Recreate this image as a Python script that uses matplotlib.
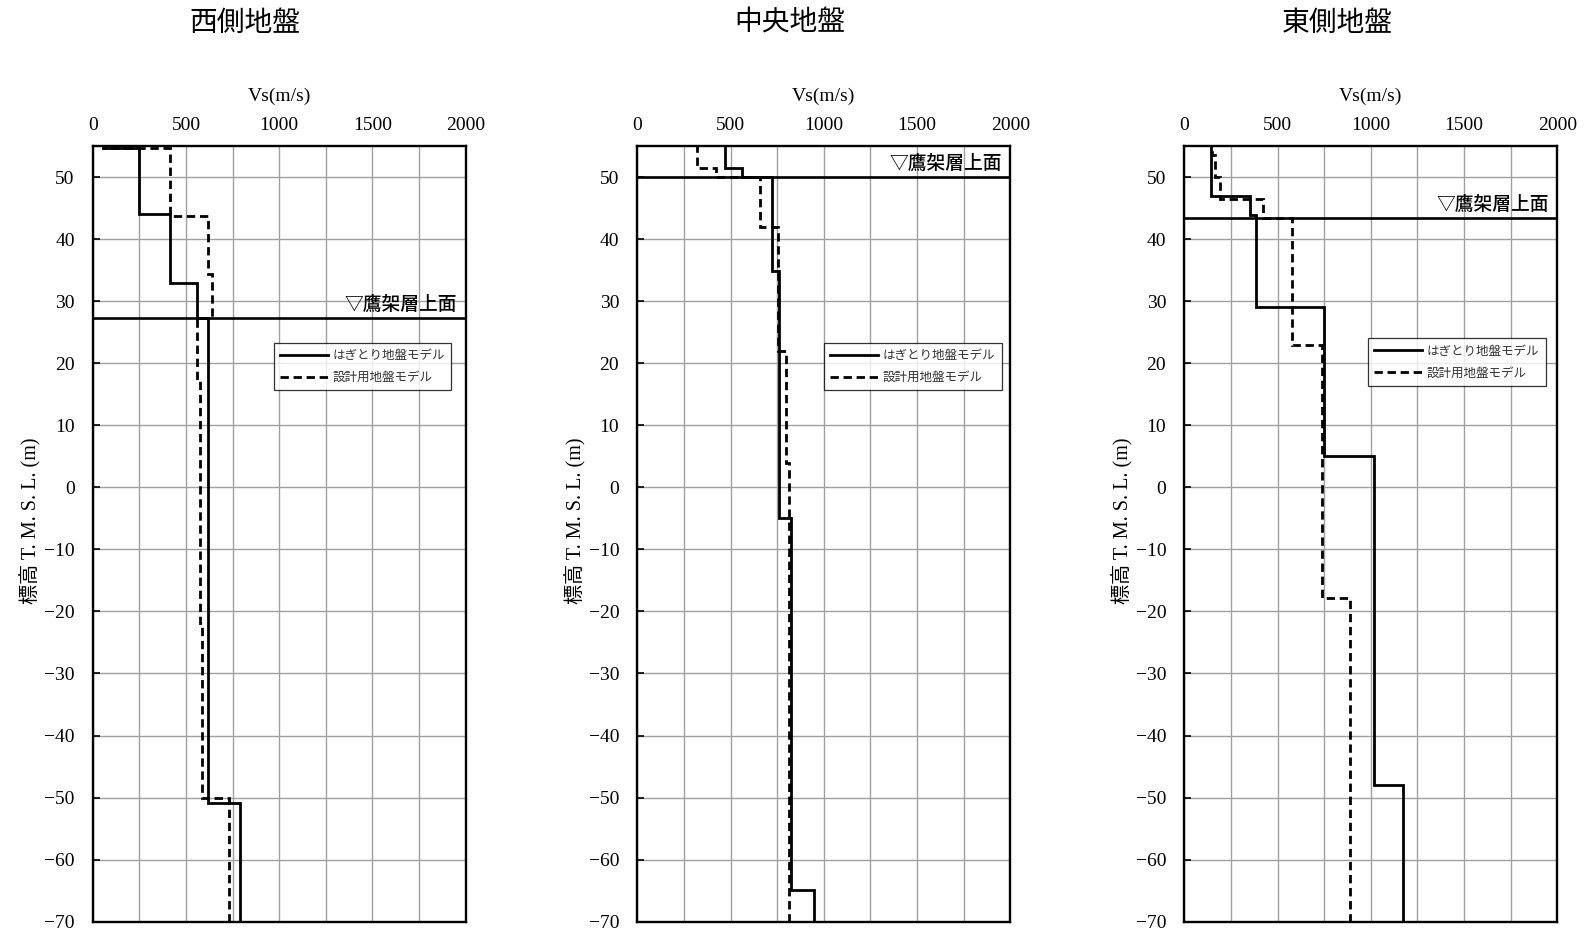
"""Vs profiles for the three ground models (west / centre / east)."""
import matplotlib
matplotlib.use("Agg")
import matplotlib.pyplot as plt
from matplotlib.ticker import MultipleLocator

JP = ["Noto Sans CJK JP", "DejaVu Sans"]
SERIF = ["Liberation Serif", "Noto Sans CJK JP"]

TITLES = ["西側地盤", "中央地盤", "東側地盤"]
LEGEND_LABELS = ["はぎとり地盤モデル", "設計用地盤モデル"]
MARK_TEXT = "▽鷹架層上面"

# layer boundaries (top -> bottom, T.M.S.L. m) and Vs (m/s) per layer
west_hag_edges = [55, 54.6, 44.0, 33.0, 27.3, -50.9, -70]
west_hag_vs = [57, 246, 417, 557, 620, 790]
west_des_edges = [55, 54.7, 43.8, 34.3, 27.3, 17.1, -21.9, -50.0, -70]
west_des_vs = [60, 417, 620, 637, 561, 575, 588, 732]

mid_hag_edges = [55, 51.5, 50.0, 34.9, -4.9, -64.9, -70]
mid_hag_vs = [470, 559, 720, 760, 825, 949]
mid_des_edges = [55, 51.5, 50.0, 42.0, 22.0, 3.9, -70]
mid_des_vs = [318, 422, 657, 755, 796, 815]

east_hag_edges = [55, 47.0, 43.9, 29.0, 5.0, -47.9, -70]
east_hag_vs = [145, 354, 382, 750, 1018, 1170]
east_des_edges = [55, 53.5, 50.0, 46.4, 43.4, 23.0, -17.9, -70]
east_des_vs = [150, 166, 190, 423, 580, 741, 888]

# 鷹架層上面 elevation per panel
mark_elev = [27.3, 50.0, 43.4]

panels = [
    (west_hag_edges, west_hag_vs, west_des_edges, west_des_vs),
    (mid_hag_edges, mid_hag_vs, mid_des_edges, mid_des_vs),
    (east_hag_edges, east_hag_vs, east_des_edges, east_des_vs),
]

W, H = 1588, 933
fig = plt.figure(figsize=(W / 100, H / 100), dpi=100)

ax_left = [92.7, 637.3, 1184.3]
ax_w = 373.0
ax_top, ax_bot = 146.0, 921.7
title_x = [245, 790, 1337]
leg_pos = [(0.486, 0.746), (0.501, 0.746), (0.493, 0.752)]

for k, (he, hv, de, dv) in enumerate(panels):
    ax = fig.add_axes([ax_left[k] / W, 1 - ax_bot / H, ax_w / W, (ax_bot - ax_top) / H])
    # stairs want ascending edges
    ax.stairs(hv[::-1], he[::-1], orientation="horizontal", baseline=None,
              color="black", lw=2.0, label=LEGEND_LABELS[0], zorder=3)
    ax.stairs(dv[::-1], de[::-1], orientation="horizontal", baseline=None,
              color="black", lw=2.0, linestyle=(0, (3.0, 1.7)),
              label=LEGEND_LABELS[1], zorder=3)
    ax.axhline(mark_elev[k], color="black", lw=1.9, zorder=4)
    ax.annotate(MARK_TEXT, xy=(1, mark_elev[k]), xycoords=("axes fraction", "data"),
                xytext=(-6, 3), textcoords="offset points", ha="right", va="bottom",
                fontsize=13.5, family=JP, weight="medium", zorder=5)

    ax.set_xlim(0, 2000)
    ax.set_ylim(-70, 55)
    ax.xaxis.set_major_locator(MultipleLocator(500))
    ax.xaxis.set_minor_locator(MultipleLocator(250))
    ax.yaxis.set_major_locator(MultipleLocator(10))
    ax.xaxis.tick_top()
    ax.xaxis.set_label_position("top")
    ax.grid(True, which="both", axis="x", color="#a0a0a0", lw=1.0, zorder=0)
    ax.grid(True, which="major", axis="y", color="#a0a0a0", lw=1.0, zorder=0)
    ax.tick_params(axis="x", which="both", direction="in", length=0, pad=8.5, labelsize=14)
    ax.tick_params(axis="y", direction="in", length=5, width=1.2, pad=13, labelsize=14)
    for lab in ax.get_xticklabels() + ax.get_yticklabels():
        lab.set_family(SERIF)
    for s in ax.spines.values():
        s.set_linewidth(1.7)
        s.set_color("black")
        s.set_zorder(6)
    ax.set_xlabel("Vs(m/s)", fontsize=14, family=SERIF, labelpad=12)
    ax.set_ylabel("標高 T. M. S. L. (m)", fontsize=14.5, family=SERIF)
    ax.yaxis.set_label_coords(-0.137, 0.517)

    leg = ax.legend(loc="upper left", bbox_to_anchor=leg_pos[k], prop={"family": JP, "size": 9},
                    handlelength=3.8, frameon=True, fancybox=False, borderpad=0.5,
                    labelspacing=0.7, handletextpad=0.4, borderaxespad=0)
    leg.get_frame().set_edgecolor("black")
    leg.get_frame().set_linewidth(0.9)
    for t in leg.get_texts():
        t.set_color("#333333")
    leg.set_zorder(7)

    fig.text(title_x[k] / W, 1 - 22.5 / H, TITLES[k], ha="center", va="center",
             fontsize=20, family=JP)

fig.savefig("out.png", dpi=100)
